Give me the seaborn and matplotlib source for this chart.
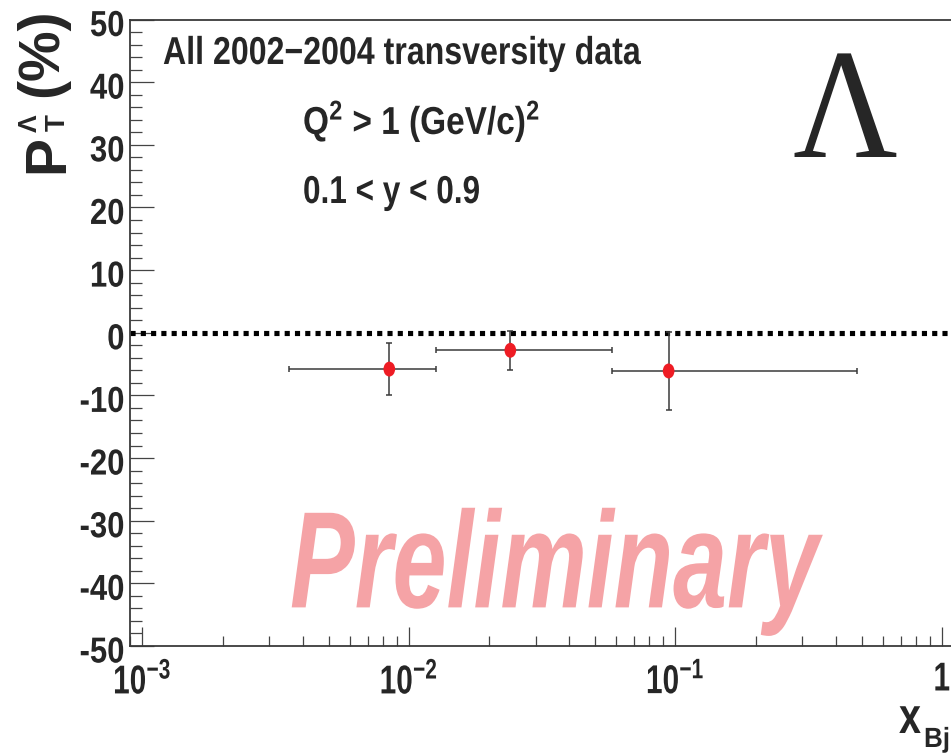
import numpy as np
import pandas as pd
import matplotlib
matplotlib.use("Agg")
import matplotlib.pyplot as plt
from matplotlib import ticker, patheffects
from matplotlib.path import Path
from matplotlib.transforms import Affine2D
import seaborn as sns

# Lambda transverse polarisation vs x_Bj (bin centres, bin edges, value, stat. error)
x_bj = [0.00845, 0.02404, 0.0944]
x_low = [0.00354, 0.01262, 0.0581]
x_high = [0.01262, 0.0581, 0.481]
pol = [-5.8, -2.8, -6.1]
pol_err = [4.2, 3.1, 6.2]

y_ticks = [-50, -40, -30, -20, -10, 0, 10, 20, 30, 40, 50]

sns.set_theme(style="ticks")
SANS = "Liberation Sans"
plt.rcParams["font.family"] = [SANS, "DejaVu Sans"]
plt.rcParams["font.weight"] = "bold"
plt.rcParams["mathtext.fontset"] = "custom"
plt.rcParams["mathtext.bf"] = f"{SANS}:bold"
plt.rcParams["mathtext.rm"] = f"{SANS}:bold"
plt.rcParams["mathtext.it"] = f"{SANS}:bold"
plt.rcParams["mathtext.default"] = "bf"


class Stretch(patheffects.AbstractPathEffect):
    """Draw text scaled by (sx, sy) about its baseline origin or a point of its ink box."""

    def __init__(self, sx=1.0, sy=1.0, h="origin", v="origin", dy=0.0):
        super().__init__()
        self.sx, self.sy, self.h, self.v, self.dy = sx, sy, h, v, dy

    def draw_path(self, renderer, gc, tpath, affine, rgbFace=None):
        ox, oy = affine.transform(np.array([0.0, 0.0]))
        ext = tpath.transformed(affine).get_extents()
        x0 = {"origin": ox, "left": ext.x0, "right": ext.x1,
              "center": 0.5 * (ext.x0 + ext.x1)}[self.h]
        y0 = {"origin": oy, "bottom": ext.y0, "top": ext.y1}[self.v]
        extra = (Affine2D().translate(-x0, -y0).scale(self.sx, self.sy)
                 .translate(x0, y0 + self.dy))
        renderer.draw_path(gc, tpath, affine + extra, rgbFace)


W, H = 951, 756
fig = plt.figure(figsize=(W / 100, H / 100), dpi=100)
fig.patch.set_facecolor("white")
renderer = fig.canvas.get_renderer()


def fx(px):
    return px / W


def fy(py):
    return 1 - py / H


def condensed_text(x, y, s, width, fontsize, **kw):
    """Text starting at pixel (x, baseline y), `width` pixels wide, glyph height of `fontsize`."""
    t = fig.text(fx(x), fy(y), s, ha="left", va="baseline", fontsize=fontsize, **kw)
    natural = t.get_window_extent(renderer).width
    small = fontsize * width / natural
    t.set_fontsize(small)
    t.set_path_effects([Stretch(1.0, fontsize / small)])
    return t


ax = fig.add_axes([fx(130), fy(646), (955 - 130) / W, (646 - 19.5) / H])
ax.set_facecolor("white")
ax.set_xscale("log")
ax.set_xlim(10 ** (-3 + (130 - 142.3) / 266.5), 10 ** (-3 + (955 - 142.3) / 266.5))
ax.set_ylim(-50, 50)

# zero reference line
ax.axhline(0, color="black", lw=3.7, ls=(0, (1, 1)), dash_capstyle="butt", zorder=2)

xb = np.array(x_bj)
xerr = [xb - np.array(x_low), np.array(x_high) - xb]
ax.errorbar(x_bj, pol, xerr=xerr, yerr=pol_err, fmt="none", ecolor="#3a3a3a",
            elinewidth=1.1, capsize=2.3, capthick=1.1, zorder=3)

circle = Path.unit_circle()
ellipse = Path(circle.vertices * np.array([0.78, 1.0]), circle.codes)
df = pd.DataFrame({"x": x_bj, "P": pol})
sns.scatterplot(data=df, x="x", y="P", ax=ax, color="#ee1c24", marker=ellipse,
                s=115, edgecolor="none", linewidth=0, zorder=4, legend=False)
ax.set_xlabel("")
ax.set_ylabel("")

for side in ["left", "bottom", "top"]:
    ax.spines[side].set_color("#3a3a3a")
    ax.spines[side].set_linewidth(1.3)
ax.spines["right"].set_visible(False)

ax.yaxis.set_major_locator(ticker.FixedLocator(y_ticks))
ax.yaxis.set_minor_locator(ticker.MultipleLocator(2))
ax.yaxis.set_major_formatter(ticker.FuncFormatter(lambda v, p: f"{int(round(v))}"))
ax.xaxis.set_major_locator(ticker.LogLocator(base=10, numticks=10))
ax.xaxis.set_minor_locator(ticker.LogLocator(base=10, subs=np.arange(2, 10), numticks=20))


def xfmt(v, p):
    e = int(round(np.log10(v)))
    return "1" if e == 0 else rf"$10^{{{e}}}$"


ax.xaxis.set_major_formatter(ticker.FuncFormatter(xfmt))
ax.xaxis.set_minor_formatter(ticker.NullFormatter())

# tick labels are set small and stretched vertically to a condensed look
Y_LABEL_PT, Y_SQUEEZE = 26, 0.86
X_LABEL_PT, X_SQUEEZE = 29, 0.74

tc = "#444444"
ax.tick_params(axis="y", which="major", direction="in", length=17, width=0.9, color=tc,
               labelsize=Y_LABEL_PT * Y_SQUEEZE, pad=4, left=True, right=False)
ax.tick_params(axis="y", which="minor", direction="in", length=8.5, width=0.9, color=tc,
               left=True, right=False)
ax.tick_params(axis="x", which="major", direction="in", length=13.5, width=0.9, color=tc,
               labelsize=X_LABEL_PT * X_SQUEEZE, pad=11, bottom=True, top=False)
ax.tick_params(axis="x", which="minor", direction="in", length=7, width=0.9, color=tc,
               bottom=True, top=False)

fig.canvas.draw()
for tick in ax.yaxis.get_major_ticks():
    tick.label1.set_path_effects([Stretch(1.0, 1 / Y_SQUEEZE, "right", "origin", dy=-5)])
for tick in ax.xaxis.get_major_ticks():
    tick.label1.set_path_effects([Stretch(1.0, 1 / X_SQUEEZE, "center", "top")])

# annotations
condensed_text(163, 64, "All 2002\u22122004 transversity data", 478, 28)
condensed_text(303, 134, r"Q$^{2}$ > 1 (GeV/c)$^{2}$", 237, 28)
condensed_text(303, 203, "0.1 < y < 0.9", 177, 28)
lam = fig.text(fx(845.5), fy(157), "\u039b", family="Liberation Serif", fontweight="normal",
               fontsize=113, ha="center", va="baseline")
lam.set_path_effects([Stretch(0.92, 1.0, "center", "origin")])

condensed_text(290, 607.4, "Preliminary", 529, 99, style="italic",
               weight="bold", color="#f5a3a6", zorder=1)

# y-axis title: P with T subscript and Lambda superscript, then (%)
rot = dict(rotation=90, rotation_mode="anchor", ha="left", va="baseline",
           family=SANS, weight="bold")
fig.text(fx(63), fy(173), "P", fontsize=41, **rot)
fig.text(fx(65), fy(131), "T", fontsize=20, **rot)
fig.text(fx(37), fy(132), "\u039b", fontsize=19, **rot)
fig.text(fx(57), fy(97), "(%)", fontsize=41, **rot)

# x-axis title
condensed_text(899, 733, "x", 22, 36.5)
condensed_text(924, 747, "Bj", 26, 20)

fig.savefig("out.png", dpi=100)
